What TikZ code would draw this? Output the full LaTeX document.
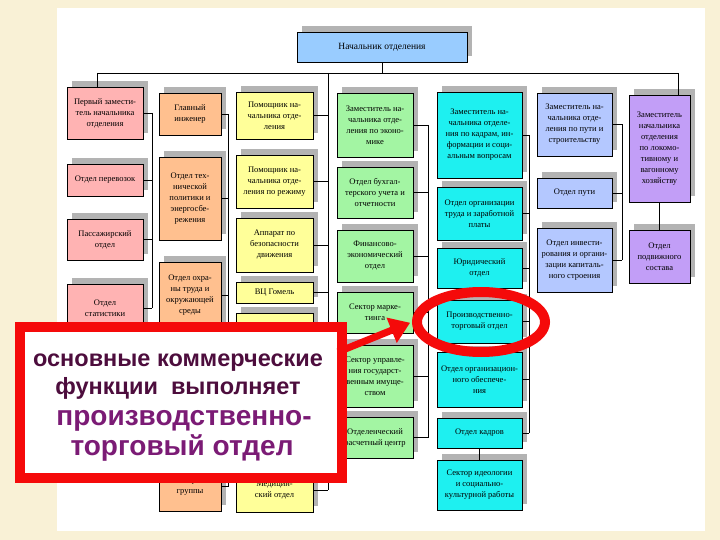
\documentclass[tikz,border=0pt]{standalone}
\usepackage{fontspec}
\setmainfont{Liberation Serif}
\newfontfamily\calloutfont{Liberation Sans}
\usetikzlibrary{shapes.geometric,shadows,arrows.meta,calc}
\definecolor{bgbeige}{HTML}{F9F1D6}
\definecolor{cpink}{HTML}{FFB3B3}
\definecolor{corange}{HTML}{FFC08F}
\definecolor{cyellow}{HTML}{FFFF99}
\definecolor{cgreen}{HTML}{A3F5A3}
\definecolor{ccyan}{HTML}{1EF0F0}
\definecolor{cblue}{HTML}{B4C8FF}
\definecolor{cpurple}{HTML}{C29EF7}
\definecolor{ctop}{HTML}{99CCFF}
\definecolor{shgray}{HTML}{B3B3B3}
\definecolor{calred}{HTML}{F50A0A}
\definecolor{txtdark}{HTML}{4D0D3D}
\definecolor{txtpurp}{HTML}{7B1B75}
\begin{document}
\begin{tikzpicture}[x=1pt,y=-1pt,
  bx/.style={draw=black, line width=0.6pt, inner sep=1pt, align=center,
    font=\fontsize{8.5}{11}\selectfont,
    drop shadow={shadow xshift=5pt, shadow yshift=6pt, fill=shgray, opacity=1}},
  pk/.style={bx, fill=cpink, minimum width=76},
  og/.style={bx, fill=corange, minimum width=62},
  yl/.style={bx, fill=cyellow, minimum width=77},
  gn/.style={bx, fill=cgreen, minimum width=76},
  cy/.style={bx, fill=ccyan, minimum width=85},
  bl/.style={bx, fill=cblue, minimum width=75},
  pu/.style={bx, fill=cpurple, minimum width=61},
  ln/.style={draw=black, line width=0.8pt},
  ctext/.style={font=\calloutfont\bfseries\fontsize{23.5}{25}\selectfont, text=txtdark, inner sep=0pt, anchor=base},
  btext/.style={font=\calloutfont\bfseries\fontsize{28}{30}\selectfont, text=txtpurp, inner sep=0pt, anchor=base}]
\useasboundingbox (0,0) rectangle (720,540);
\fill[bgbeige] (0,0) rectangle (720,540);
\fill[white] (57,8) rectangle (705,531);

% top
\node[bx, fill=ctop, minimum width=170, minimum height=30, font=\fontsize{9.5}{11}\selectfont] (top) at (382,47) {Начальник отделения};

% pink column
\node[pk, minimum height=52] (p1) at (105,113) {Первый замести-\\тель начальника\\отделения};
\node[pk, minimum height=32] (p2) at (105,180) {Отдел перевозок};
\node[pk, minimum height=41] (p3) at (105,239.5) {Пассажирский\\отдел};
\node[pk, minimum height=48] (p4) at (105,308) {Отдел\\статистики};

% orange column
\node[og, minimum height=42] (o1) at (190,114) {Главный\\инженер};
\node[og, minimum height=83] (o2) at (190,198.5) {Отдел тех-\\нической\\политики и\\энергосбе-\\режения};
\node[og, minimum height=66] (o3) at (190,295) {Отдел охра-\\ны труда и\\окружающей\\среды};
\node[og, minimum height=49] (o4) at (190,486.5) {Ревизорской\\группы};

% yellow column
\node[yl, minimum height=47] (y1) at (274.5,115.5) {Помощник на-\\чальника отде-\\ления};
\node[yl, minimum height=53] (y2) at (274.5,181.5) {Помощник на-\\чальника отде-\\ления по режиму};
\node[yl, minimum height=54] (y3) at (274.5,245) {Аппарат по\\безопасности\\движения};
\node[yl, minimum height=21] (y4) at (274.5,292.5) {ВЦ Гомель};
\node[yl, minimum height=32] (y5) at (274.5,329) {Штаб ГО};
\node[yl, minimum height=44] (y6) at (274.5,490) {Медицин-\\ский отдел};

% green column
\node[gn, minimum height=64] (g1) at (375,125) {Заместитель на-\\чальника отде-\\ления по эконо-\\мике};
\node[gn, minimum height=51] (g2) at (375,192.5) {Отдел бухгал-\\терского учета и\\отчетности};
\node[gn, minimum height=52] (g3) at (375,256) {Финансово-\\экономический\\отдел};
\node[gn, minimum height=41] (g4) at (375,312.5) {Сектор марке-\\тинга};
\node[gn, minimum height=62] (g5) at (375,376) {Сектор управле-\\ния государст-\\венным имуще-\\ством};
\node[gn, minimum height=41] (g6) at (375,437.5) {Отделенческий\\расчетный центр};

% cyan column
\node[cy, minimum height=86] (c1) at (479.5,135) {Заместитель на-\\чальника отделе-\\ния по кадрам, ин-\\формации и соци-\\альным вопросам};
\node[cy, minimum height=53] (c2) at (479.5,213.5) {Отдел организации\\труда и заработной\\платы};
\node[cy, minimum height=40] (c3) at (479.5,268) {Юридический\\отдел};
\node[cy, minimum height=43] (c4) at (479.5,321.5) {Производственно-\\торговый отдел};
\node[cy, minimum height=55] (c5) at (479.5,379.5) {Отдел организацион-\\ного обеспече-\\ния};
\node[cy, minimum height=30] (c6) at (479.5,433) {Отдел кадров};
\node[cy, minimum height=50] (c7) at (479.5,485) {Сектор идеологии\\и социально-\\культурной работы};

% blue column
\node[bl, minimum height=63] (b1) at (574.5,124.5) {Заместитель на-\\чальника отде-\\ления по пути и\\строительству};
\node[bl, minimum height=30] (b2) at (574.5,193) {Отдел пути};
\node[bl, minimum height=64] (b3) at (574.5,260) {Отдел инвести-\\рования и органи-\\зации капиталь-\\ного строения};

% purple column
\node[pu, minimum height=107] (u1) at (659.5,148.5) {Заместитель\\начальника\\отделения\\по локомо-\\тивному и\\вагонному\\хозяйству};
\node[pu, minimum height=53] (u2) at (659.5,256.5) {Отдел\\подвижного\\состава};

% connectors
\coordinate (hl) at (97,73);
\coordinate (hr) at (678,73);
\coordinate (ya) at (328,73);
\coordinate (yb) at (328,490);
\draw[ln] (hl) -- (hr);
\draw[ln] (top.south) -- (top.south |- hl);
\draw[ln] (hl) -- (hl |- p1.north);
\draw[ln] (hr) -- (hr |- u1.north);
\draw[ln] (ya) -- (yb);
\foreach \n in {y1,y2,y3,y4,y5,y6} \draw[ln] (\n.east) -- (\n.east -| ya);

\coordinate (pa) at (152,113);
\coordinate (pb) at (152,308);
\draw[ln] (pa) -- (pb);
\foreach \n in {p1,p2,p3,p4} \draw[ln] (\n.east) -- (\n.east -| pa);

\coordinate (oa) at (228,114);
\coordinate (ob) at (228,486.5);
\draw[ln] (oa) -- (ob);
\foreach \n in {o1,o2,o3,o4} \draw[ln] (\n.east) -- (\n.east -| oa);

\coordinate (ga) at (428,125);
\coordinate (gb) at (428,437.5);
\draw[ln] (ga) -- (gb);
\foreach \n in {g1,g2,g3,g4,g5,g6} \draw[ln] (\n.east) -- (\n.east -| ga);

\coordinate (ca) at (529,135);
\coordinate (cb) at (529,433);
\draw[ln] (ca) -- (cb);
\foreach \n in {c1,c2,c3,c4,c5,c6} \draw[ln] (\n.east) -- (\n.east -| ca);
\draw[ln] (c6.south) -- (c7.north);

\coordinate (ba) at (622,124.5);
\coordinate (bb) at (622,260);
\draw[ln] (ba) -- (bb);
\foreach \n in {b1,b2,b3} \draw[ln] (\n.east) -- (\n.east -| ba);

\draw[ln] (u1.south) -- (u2.north);

% highlight ellipse
\node[draw=calred, line width=10pt, ellipse, minimum width=128, minimum height=60, inner sep=0pt] (ell) at (481,322) {};

% callout
\node[draw=calred, line width=10pt, fill=white, minimum width=322, minimum height=151, inner sep=0pt] (call) at (181,402.5) {};
\node[ctext] (t1) at (178,366) {основные коммерческие};
\node[ctext] (t2) at (178,394) {функции\ \ выполняет};
\node[btext] (t3) at (184,425) {производственно-};
\node[btext] (t4) at (182,455) {торговый отдел};

\coordinate (as) at (338,352);
\draw[calred, line width=7pt, -{Triangle[length=20pt,width=26pt]}, shorten >=2pt] (as) -- (ell.west);
\end{tikzpicture}
\end{document}
